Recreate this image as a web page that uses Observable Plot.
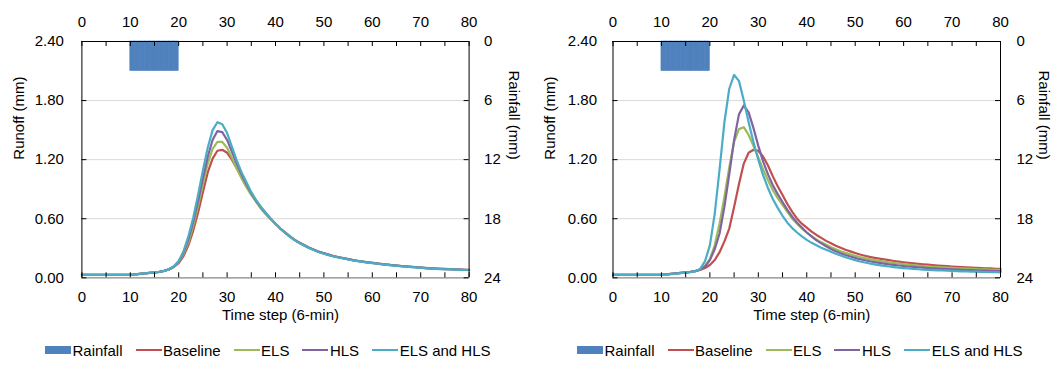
<!DOCTYPE html>
<html><head><meta charset="utf-8">
<script src="https://cdn.jsdelivr.net/npm/d3@7"></script>
<script src="https://cdn.jsdelivr.net/npm/@observablehq/plot@0.6"></script>
<style>
body{margin:0;background:#fff;font-family:"Liberation Sans",Arial,sans-serif;}
#wrap{position:relative;width:1057px;height:372px;overflow:hidden;background:#fff}
.panel{position:absolute;top:0}
.legend{position:absolute;top:340px;height:20px;display:flex;align-items:center;font-size:15px;white-space:nowrap;color:#000}
.item{display:flex;align-items:center;margin-right:13px}
.sw{display:inline-block;width:26px;margin-right:1.5px}
</style></head><body><div id="wrap"></div><script>
// ---- data ----
const timeSteps = Array.from({length: 81}, (_, i) => i);
const seriesNames = ["Baseline", "ELS", "HLS", "ELS and HLS"];
const seriesColors = ["#c0504d", "#9bbb59", "#8064a2", "#4bacc6"];
const rainColor = "#4f81bd";
const rainSteps = [10, 11, 12, 13, 14, 15, 16, 17, 18, 19];
const rainDepth = [3, 3, 3, 3, 3, 3, 3, 3, 3, 3];
const xLabelTicks = [0, 10, 20, 30, 40, 50, 60, 70, 80];
const xMinorTicks = [0, 5, 10, 15, 20, 25, 30, 35, 40, 45, 50, 55, 60, 65, 70, 75, 80];
const runoffTicks = [0, 0.6, 1.2, 1.8, 2.4];
const gridTicks = [0.6, 1.2, 1.8];
const rainTicks = [0, 6, 12, 18, 24];
const runoffMax = 2.4, rainMax = 24;

// left panel
const leftBaseline = [0.03,0.03,0.03,0.03,0.03,0.03,0.03,0.03,0.03,0.03,
 0.03,0.035,0.04,0.045,0.05,0.055,0.06,0.07,0.085,0.11,
 0.15,0.22,0.33,0.48,0.66,0.87,1.07,1.21,1.29,1.30,
 1.27,1.2,1.11,1.02,0.93,0.85,0.78,0.71,0.65,0.6,
 0.55,0.5,0.46,0.42,0.385,0.355,0.33,0.305,0.285,0.265,
 0.25,0.235,0.22,0.21,0.2,0.19,0.18,0.172,0.165,0.158,
 0.152,0.146,0.14,0.135,0.13,0.125,0.12,0.116,0.112,0.108,
 0.104,0.1,0.097,0.094,0.092,0.09,0.088,0.086,0.084,0.082,0.08];
const leftELS = [0.03,0.03,0.03,0.03,0.03,0.03,0.03,0.03,0.03,0.03,
 0.03,0.035,0.04,0.045,0.05,0.055,0.06,0.07,0.086,0.113,
 0.16,0.24,0.36,0.53,0.73,0.95,1.16,1.31,1.38,1.38,
 1.32,1.22,1.11,1.01,0.92,0.84,0.77,0.7,0.645,0.595,
 0.548,0.5,0.458,0.418,0.383,0.353,0.328,0.303,0.283,0.263,
 0.248,0.233,0.219,0.209,0.199,0.189,0.179,0.171,0.164,0.157,
 0.151,0.145,0.139,0.134,0.129,0.124,0.119,0.115,0.111,0.107,
 0.103,0.099,0.096,0.093,0.091,0.089,0.087,0.085,0.083,0.081,0.079];
const leftHLS = [0.03,0.03,0.03,0.03,0.03,0.03,0.03,0.03,0.03,0.03,
 0.03,0.035,0.04,0.045,0.05,0.055,0.06,0.07,0.087,0.115,
 0.165,0.255,0.39,0.57,0.78,1.01,1.23,1.4,1.49,1.48,
 1.4,1.28,1.16,1.05,0.95,0.86,0.78,0.715,0.655,0.6,
 0.55,0.5,0.458,0.418,0.383,0.353,0.328,0.303,0.283,0.263,
 0.248,0.233,0.219,0.209,0.199,0.189,0.179,0.171,0.164,0.157,
 0.151,0.145,0.139,0.134,0.129,0.124,0.119,0.115,0.111,0.107,
 0.103,0.099,0.096,0.093,0.091,0.089,0.087,0.085,0.083,0.081,0.079];
const leftBoth = [0.03,0.03,0.03,0.03,0.03,0.03,0.03,0.03,0.03,0.03,
 0.03,0.035,0.04,0.045,0.05,0.055,0.06,0.07,0.088,0.118,
 0.17,0.27,0.42,0.61,0.84,1.09,1.32,1.5,1.58,1.56,
 1.47,1.33,1.19,1.07,0.97,0.87,0.79,0.72,0.66,0.6,
 0.548,0.498,0.455,0.415,0.38,0.35,0.325,0.3,0.28,0.26,
 0.245,0.23,0.216,0.206,0.196,0.186,0.177,0.169,0.162,0.155,
 0.149,0.143,0.137,0.132,0.127,0.122,0.117,0.113,0.109,0.105,
 0.101,0.097,0.094,0.091,0.089,0.087,0.085,0.083,0.081,0.079,0.077];

// right panel
const rightBaseline = [0.03,0.03,0.03,0.03,0.03,0.03,0.03,0.03,0.03,0.03,
 0.03,0.035,0.04,0.045,0.05,0.055,0.06,0.068,0.08,0.1,
 0.13,0.18,0.26,0.37,0.5,0.72,0.95,1.16,1.27,1.3,
 1.29,1.23,1.14,1.03,0.93,0.84,0.75,0.67,0.6,0.55,
 0.51,0.47,0.435,0.405,0.375,0.35,0.325,0.305,0.285,0.268,
 0.252,0.237,0.224,0.212,0.203,0.195,0.187,0.179,0.171,0.164,
 0.158,0.152,0.147,0.142,0.137,0.133,0.129,0.125,0.121,0.118,
 0.115,0.112,0.109,0.106,0.103,0.101,0.099,0.097,0.095,0.092,0.09];
const rightELS = [0.03,0.03,0.03,0.03,0.03,0.03,0.03,0.03,0.03,0.03,
 0.03,0.035,0.04,0.045,0.05,0.055,0.06,0.068,0.085,0.12,
 0.19,0.33,0.55,0.82,1.12,1.38,1.51,1.53,1.45,1.34,
 1.22,1.1,0.99,0.89,0.81,0.74,0.67,0.6,0.55,0.5,
 0.46,0.42,0.39,0.36,0.335,0.31,0.29,0.27,0.253,0.238,
 0.224,0.211,0.2,0.19,0.181,0.172,0.165,0.158,0.151,0.145,
 0.139,0.134,0.129,0.124,0.12,0.116,0.112,0.109,0.106,0.103,
 0.1,0.097,0.095,0.093,0.091,0.089,0.087,0.085,0.084,0.082,0.081];
const rightHLS = [0.03,0.03,0.03,0.03,0.03,0.03,0.03,0.03,0.03,0.03,
 0.03,0.035,0.04,0.045,0.05,0.055,0.06,0.068,0.085,0.115,
 0.18,0.29,0.45,0.72,1.05,1.4,1.66,1.75,1.68,1.52,
 1.34,1.18,1.05,0.94,0.85,0.77,0.69,0.62,0.56,0.51,
 0.46,0.42,0.38,0.35,0.32,0.293,0.27,0.25,0.232,0.216,
 0.202,0.189,0.178,0.168,0.159,0.151,0.144,0.137,0.131,0.125,
 0.12,0.115,0.111,0.107,0.103,0.099,0.096,0.093,0.09,0.088,
 0.085,0.083,0.081,0.079,0.077,0.075,0.073,0.072,0.07,0.069,0.067];
const rightBoth = [0.03,0.03,0.03,0.03,0.03,0.03,0.03,0.03,0.03,0.03,
 0.03,0.033,0.037,0.042,0.047,0.052,0.058,0.068,0.09,0.17,
 0.33,0.65,1.1,1.58,1.92,2.06,2.0,1.8,1.58,1.38,
 1.2,1.04,0.91,0.8,0.71,0.63,0.56,0.505,0.46,0.42,
 0.385,0.355,0.33,0.305,0.285,0.265,0.245,0.226,0.209,0.193,
 0.179,0.166,0.155,0.145,0.136,0.128,0.121,0.115,0.109,0.104,
 0.099,0.095,0.091,0.087,0.084,0.081,0.078,0.076,0.074,0.072,
 0.07,0.068,0.066,0.065,0.063,0.062,0.06,0.059,0.058,0.057,0.056];

// ---- build ----
const rainToRunoff = r => runoffMax - r * runoffMax / rainMax;
const rainRows = rainSteps.map((t, i) => ({t0: t, t1: t + 1, r: rainDepth[i]}));

function longRows(arrays) {
  const rows = [];
  arrays.forEach((arr, k) => arr.forEach((v, i) => rows.push({t: timeSteps[i], v, s: seriesNames[k]})));
  return rows;
}

const H = 330, MT = 41, MB = 52.7;
function makeChart({width, ml, mr, arrays, leftPad, rightPad, runoffDx, rainDx}) {
  const innerW = width - ml - mr, innerH = H - MT - MB;
  const rows = longRows(arrays);
  return Plot.plot({
    width, height: H, marginLeft: ml, marginRight: mr, marginTop: MT, marginBottom: MB,
    style: {fontFamily: '"Liberation Sans", Arial, sans-serif', fontSize: "15px", color: "#000", background: "#fff", overflow: "visible"},
    x: {domain: [0, 80], label: null},
    y: {domain: [0, runoffMax], label: null},
    color: {domain: seriesNames, range: seriesColors},
    marks: [
      Plot.ruleY(gridTicks, {stroke: "#d9d9d9", strokeWidth: 1}),
      Plot.rect(rainRows, {x1: "t0", x2: "t1", y1: () => rainToRunoff(0), y2: d => rainToRunoff(d.r), fill: rainColor, stroke: rainColor, strokeWidth: 0.6}),
      Plot.line(rows, {x: "t", y: "v", z: "s", stroke: "s", strokeWidth: 2.2, strokeLinejoin: "round"}),
      // frame
      Plot.ruleX([0], {stroke: "#000", strokeWidth: 1}),
      Plot.ruleX([80], {stroke: "#000", strokeWidth: 1}),
      Plot.ruleY([runoffMax], {stroke: "#000", strokeWidth: 1}),
      Plot.ruleY([0], {stroke: "#868686", strokeWidth: 1.3}),
      // inward ticks
      Plot.ruleX(xMinorTicks, {insetTop: innerH - 5, stroke: "#000"}),
      Plot.ruleX(xMinorTicks, {insetBottom: innerH - 5, stroke: "#000"}),
      Plot.ruleY(runoffTicks, {insetRight: innerW - 5, stroke: "#000"}),
      Plot.ruleY(rainTicks.map(rainToRunoff), {insetLeft: innerW - 5, stroke: "#000"}),
      // axes
      Plot.axisX({anchor: "bottom", ticks: xLabelTicks, tickSize: 0, tickPadding: 14, label: null, tickFormat: d => String(d)}),
      Plot.axisX({anchor: "top", ticks: xLabelTicks, tickSize: 0, tickPadding: 15, label: null, tickFormat: d => String(d)}),
      Plot.axisY({anchor: "left", ticks: runoffTicks, tickSize: 0, tickPadding: leftPad, label: null, tickFormat: d3.format(".2f")}),
      Plot.axisY({anchor: "right", ticks: rainTicks.map(rainToRunoff), tickSize: 0, tickPadding: rightPad, label: null,
        tickFormat: y => String(Math.round((runoffMax - y) * rainMax / runoffMax))}),
      // titles
      Plot.text(["Runoff (mm)"], {text: d => d, frameAnchor: "left", dx: runoffDx, rotate: -90}),
      Plot.text(["Rainfall (mm)"], {text: d => d, frameAnchor: "right", dx: rainDx, rotate: 90}),
      Plot.text(["Time step (6-min)"], {text: d => d, frameAnchor: "bottom", dx: 5, dy: 42})
    ]
  });
}

function makeLegend(left) {
  const lg = document.createElement("div");
  lg.className = "legend";
  lg.style.left = left + "px";
  const labels = ["Rainfall"].concat(seriesNames);
  const cols = [rainColor].concat(seriesColors);
  labels.forEach((lab, i) => {
    const it = document.createElement("span");
    it.className = "item";
    const sw = document.createElement("span");
    sw.className = "sw";
    sw.style.background = cols[i];
    sw.style.height = i === 0 ? "8px" : "2px";
    const tx = document.createElement("span");
    tx.textContent = lab;
    it.appendChild(sw); it.appendChild(tx);
    lg.appendChild(it);
  });
  return lg;
}

const wrap = document.getElementById("wrap");
const p1 = document.createElement("div"); p1.className = "panel"; p1.style.left = "0px";
p1.appendChild(makeChart({width: 528, ml: 81.4, mr: 59.4, arrays: [leftBaseline, leftELS, leftHLS, leftBoth], leftPad: 18, rightPad: 15, runoffDx: -63, rainDx: 44.5}));
const p2 = document.createElement("div"); p2.className = "panel"; p2.style.left = "529px";
p2.appendChild(makeChart({width: 528, ml: 83.5, mr: 57, arrays: [rightBaseline, rightELS, rightHLS, rightBoth], leftPad: 16, rightPad: 16, runoffDx: -62.5, rainDx: 43}));
wrap.appendChild(p1); wrap.appendChild(p2);
wrap.appendChild(makeLegend(45));
wrap.appendChild(makeLegend(577));
</script></body></html>
